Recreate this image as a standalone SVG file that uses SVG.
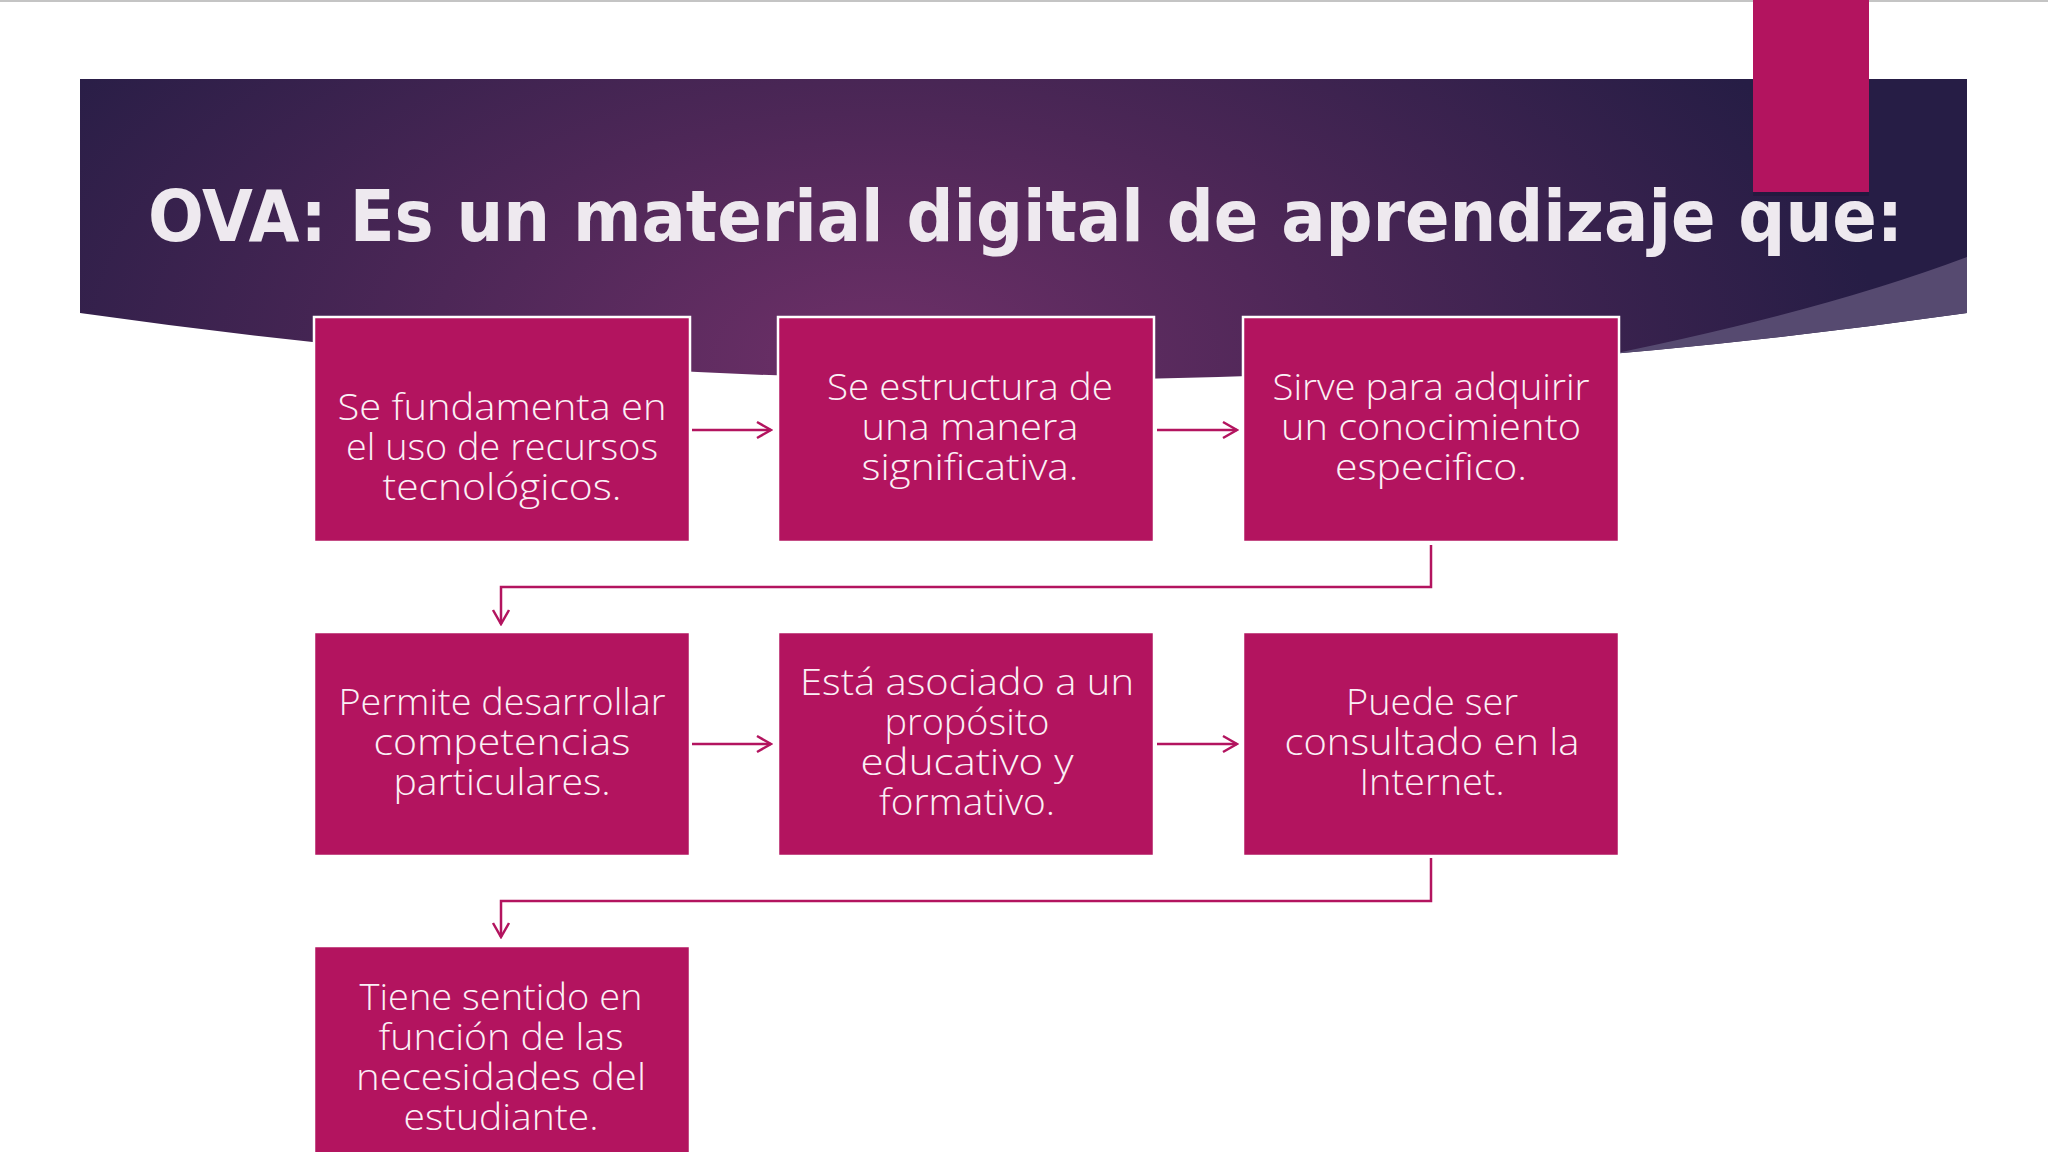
<svg xmlns="http://www.w3.org/2000/svg" width="2048" height="1152" viewBox="0 0 2048 1152">
<style>
.box{fill:#B3145F;stroke:#FFFFFF;stroke-width:2.5}
.t{font-family:"Open Sans","Liberation Sans",sans-serif;font-weight:300;font-size:36px;fill:#FBF0F6;text-anchor:middle}
.conn{stroke:#B3145F;stroke-width:2.5;fill:none}
.title{font-family:"DejaVu Sans","Liberation Sans",sans-serif;font-weight:bold;font-size:71px;fill:#EEE9EF}
</style>
<defs>
<radialGradient id="bg" cx="880" cy="360" r="1000" gradientUnits="userSpaceOnUse" gradientTransform="translate(880 360) scale(1 0.55) translate(-880 -360)">
<stop offset="0" stop-color="#6E3068"/>
<stop offset="0.45" stop-color="#4D2757"/>
<stop offset="1" stop-color="#261D45"/>
</radialGradient>
<clipPath id="bannerClip"><path d="M80,79 H1967 V313 Q1024,447 80,313 Z"/></clipPath>
<marker id="arr" viewBox="0 0 18 20" refX="16" refY="10" markerWidth="18" markerHeight="20" markerUnits="userSpaceOnUse" orient="auto">
<path d="M2,2 L16,10 L2,18" fill="none" stroke="#B3145F" stroke-width="2.5"/>
</marker>
</defs>
<rect x="0" y="0" width="2048" height="1152" fill="#FFFFFF"/>
<rect x="0" y="0" width="2048" height="2" fill="#C4C4C4"/>
<g id="banner">
<path d="M80,79 H1967 V313 Q1024,447 80,313 Z" fill="url(#bg)"/>
<path d="M1967,257 Q1760,335 1400,392 L1967,440 Z" fill="#564A70" clip-path="url(#bannerClip)"/>
</g>
<g id="tab">
<rect x="1753" y="192" width="116" height="4" fill="#1A1030" opacity="0.35"/>
<rect x="1753" y="0" width="116" height="192" fill="#B3145F"/>
</g>
<text id="title" class="title" x="148" y="241" textLength="1755" lengthAdjust="spacingAndGlyphs">OVA: Es un material digital de aprendizaje que:</text>
<g id="connectors">
<path class="conn" d="M692,430 H771" marker-end="url(#arr)"/>
<path class="conn" d="M1157,430 H1237" marker-end="url(#arr)"/>
<path class="conn" d="M1431,545 V587 H501 V624" marker-end="url(#arr)"/>
<path class="conn" d="M692,744 H771" marker-end="url(#arr)"/>
<path class="conn" d="M1157,744 H1237" marker-end="url(#arr)"/>
<path class="conn" d="M1431,858 V901 H501 V937" marker-end="url(#arr)"/>
</g>
<g id="node1">
<rect class="box" x="314" y="317" width="376" height="225"/>
<text class="t" x="502" y="420" textLength="329" lengthAdjust="spacingAndGlyphs">Se fundamenta en</text>
<text class="t" x="502" y="460" textLength="312" lengthAdjust="spacingAndGlyphs">el uso de recursos</text>
<text class="t" x="502" y="500" textLength="239" lengthAdjust="spacingAndGlyphs">tecnológicos.</text>
</g>
<g id="node2">
<rect class="box" x="778" y="317" width="376" height="225"/>
<text class="t" x="970" y="400" textLength="286" lengthAdjust="spacingAndGlyphs">Se estructura de</text>
<text class="t" x="970" y="440" textLength="217" lengthAdjust="spacingAndGlyphs">una manera</text>
<text class="t" x="970" y="480" textLength="217" lengthAdjust="spacingAndGlyphs">significativa.</text>
</g>
<g id="node3">
<rect class="box" x="1243" y="317" width="376" height="225"/>
<text class="t" x="1431" y="400" textLength="317" lengthAdjust="spacingAndGlyphs">Sirve para adquirir</text>
<text class="t" x="1431" y="440" textLength="300" lengthAdjust="spacingAndGlyphs">un conocimiento</text>
<text class="t" x="1431" y="480" textLength="192" lengthAdjust="spacingAndGlyphs">especifico.</text>
</g>
<g id="node4">
<rect class="box" x="314" y="632" width="376" height="224"/>
<text class="t" x="502" y="715" textLength="327" lengthAdjust="spacingAndGlyphs">Permite desarrollar</text>
<text class="t" x="502" y="755" textLength="257" lengthAdjust="spacingAndGlyphs">competencias</text>
<text class="t" x="502" y="795" textLength="217" lengthAdjust="spacingAndGlyphs">particulares.</text>
</g>
<g id="node5">
<rect class="box" x="778" y="632" width="376" height="224"/>
<text class="t" x="967" y="695" textLength="334" lengthAdjust="spacingAndGlyphs">Está asociado a un</text>
<text class="t" x="967" y="735" textLength="165" lengthAdjust="spacingAndGlyphs">propósito</text>
<text class="t" x="967" y="775" textLength="213" lengthAdjust="spacingAndGlyphs">educativo y</text>
<text class="t" x="967" y="815" textLength="176" lengthAdjust="spacingAndGlyphs">formativo.</text>
</g>
<g id="node6">
<rect class="box" x="1243" y="632" width="376" height="224"/>
<text class="t" x="1432" y="715" textLength="172" lengthAdjust="spacingAndGlyphs">Puede ser</text>
<text class="t" x="1432" y="755" textLength="295" lengthAdjust="spacingAndGlyphs">consultado en la</text>
<text class="t" x="1432" y="795" textLength="145" lengthAdjust="spacingAndGlyphs">Internet.</text>
</g>
<g id="node7">
<rect class="box" x="314" y="946" width="376" height="220"/>
<text class="t" x="501" y="1010" textLength="283" lengthAdjust="spacingAndGlyphs">Tiene sentido en</text>
<text class="t" x="501" y="1050" textLength="245" lengthAdjust="spacingAndGlyphs">función de las</text>
<text class="t" x="501" y="1090" textLength="290" lengthAdjust="spacingAndGlyphs">necesidades del</text>
<text class="t" x="501" y="1130" textLength="195" lengthAdjust="spacingAndGlyphs">estudiante.</text>
</g>
</svg>
